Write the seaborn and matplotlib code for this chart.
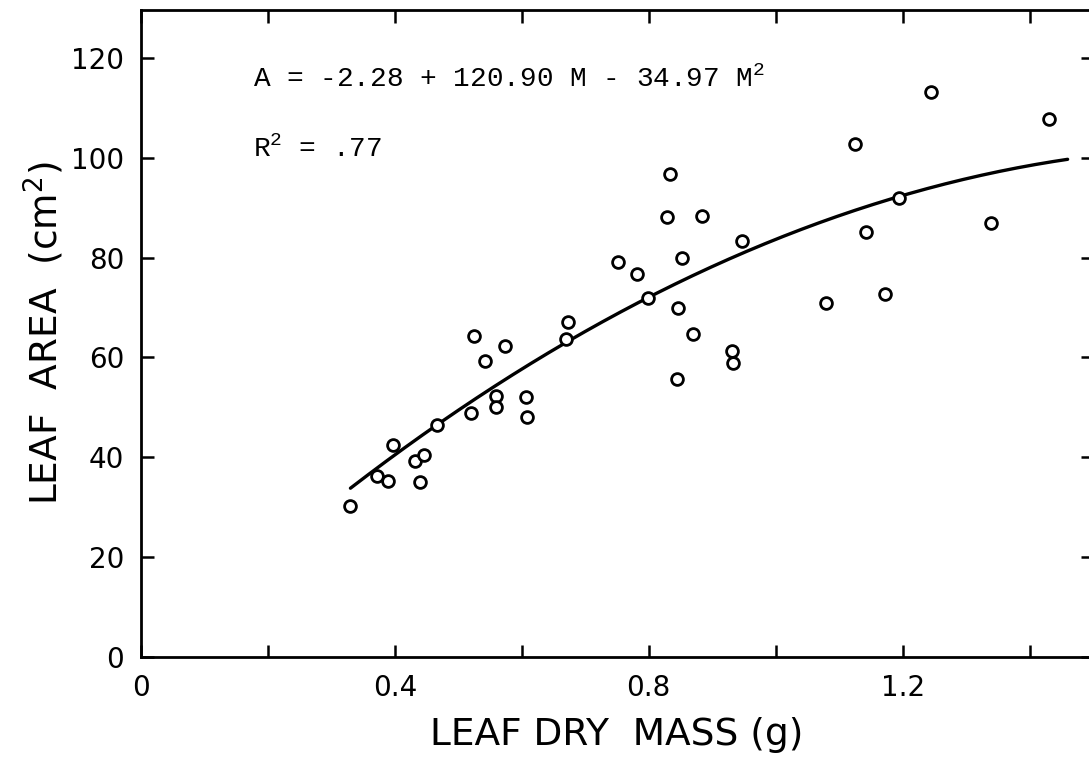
import numpy as np
import pandas as pd
import seaborn as sns
import matplotlib
matplotlib.use("Agg")
import matplotlib.pyplot as plt

# ---- data ----
leaf_mass = [0.329, 0.372, 0.389, 0.397, 0.432, 0.446, 0.440, 0.466, 0.520, 0.525,
             0.542, 0.574, 0.560, 0.560, 0.606, 0.608, 0.669, 0.673,
             0.751, 0.782, 0.799, 0.834, 0.829, 0.884, 0.853, 0.846, 0.869, 0.845,
             0.947, 0.931, 0.933, 1.079, 1.125, 1.143, 1.173, 1.195, 1.339,
             1.245, 1.431]
leaf_area = [30.3, 36.3, 35.2, 42.4, 39.3, 40.5, 35.1, 46.5, 48.9, 64.2,
             59.2, 62.2, 52.3, 50.1, 52.1, 48.1, 63.6, 67.1,
             79.1, 76.8, 71.9, 96.8, 88.2, 88.3, 80.0, 69.9, 64.8, 55.7,
             83.3, 61.2, 58.9, 70.9, 102.8, 85.2, 72.7, 91.9, 86.9,
             113.2, 107.8]

# fitted quadratic printed on the chart: A = b0 + b1*M + b2*M^2
coef = [-2.28, 120.90, -34.97]
fit_range = [0.33, 1.46]

x_ticks_major = [0, 0.4, 0.8, 1.2]
x_tick_labels = ["0", "0.4", "0.8", "1.2"]
x_ticks_minor = [0.2, 0.6, 1.0, 1.4]
y_ticks = [0, 20, 40, 60, 80, 100, 120]

# ---- style ----
sns.set_theme(style="ticks")
plt.rcParams["font.family"] = ["DejaVu Sans"]
plt.rcParams["mathtext.default"] = "regular"

W, H = 1089, 761
fig = plt.figure(figsize=(W / 100, H / 100), dpi=100)
left_px, right_px, top_px, bottom_px = 141, 1093, 10, 657
ax = fig.add_axes([left_px / W, 1 - bottom_px / H,
                   (right_px - left_px) / W, (bottom_px - top_px) / H])

df = pd.DataFrame({"mass": leaf_mass, "area": leaf_area})
sns.scatterplot(data=df, x="mass", y="area", ax=ax, marker="o", s=72,
                facecolor="white", edgecolor="black", linewidth=2.0, zorder=3)

m = np.linspace(fit_range[0], fit_range[1], 200)
curve = pd.DataFrame({"mass": m, "area": coef[0] + coef[1] * m + coef[2] * m ** 2})
sns.lineplot(data=curve, x="mass", y="area", ax=ax, color="black", linewidth=2.4, zorder=2)

ax.set_xlim(0, 1.5)
ax.set_ylim(0, 129.6)

ax.set_xticks(x_ticks_major)
ax.set_xticklabels(x_tick_labels)
ax.set_xticks(x_ticks_minor, minor=True)
ax.set_yticks(y_ticks)
ax.set_yticklabels([str(v) for v in y_ticks])

ax.tick_params(axis="both", which="both", direction="in", length=9, width=1.8,
               top=True, right=True, colors="black", labelsize=20, pad=12)
ax.tick_params(axis="both", which="minor", labelbottom=False)

for sp in ax.spines.values():
    sp.set_visible(True)
    sp.set_linewidth(2.0)
    sp.set_color("black")

ax.set_xlabel("LEAF DRY  MASS (g)", fontsize=27, labelpad=11, color="black")
ax.set_ylabel("LEAF  AREA  (cm$^2$)", fontsize=27, labelpad=4, color="black")

mono = "Liberation Mono"
ax.text(0.177, 114.2, "A = -2.28 + 120.90 M - 34.97 M$^2$", family=mono,
        fontsize=20, color="black", va="baseline", ha="left")
ax.text(0.177, 100.2, "R$^2$ = .77", family=mono,
        fontsize=20, color="black", va="baseline", ha="left")

ax.grid(False)
fig.savefig("out.png", dpi=100, facecolor="white")
